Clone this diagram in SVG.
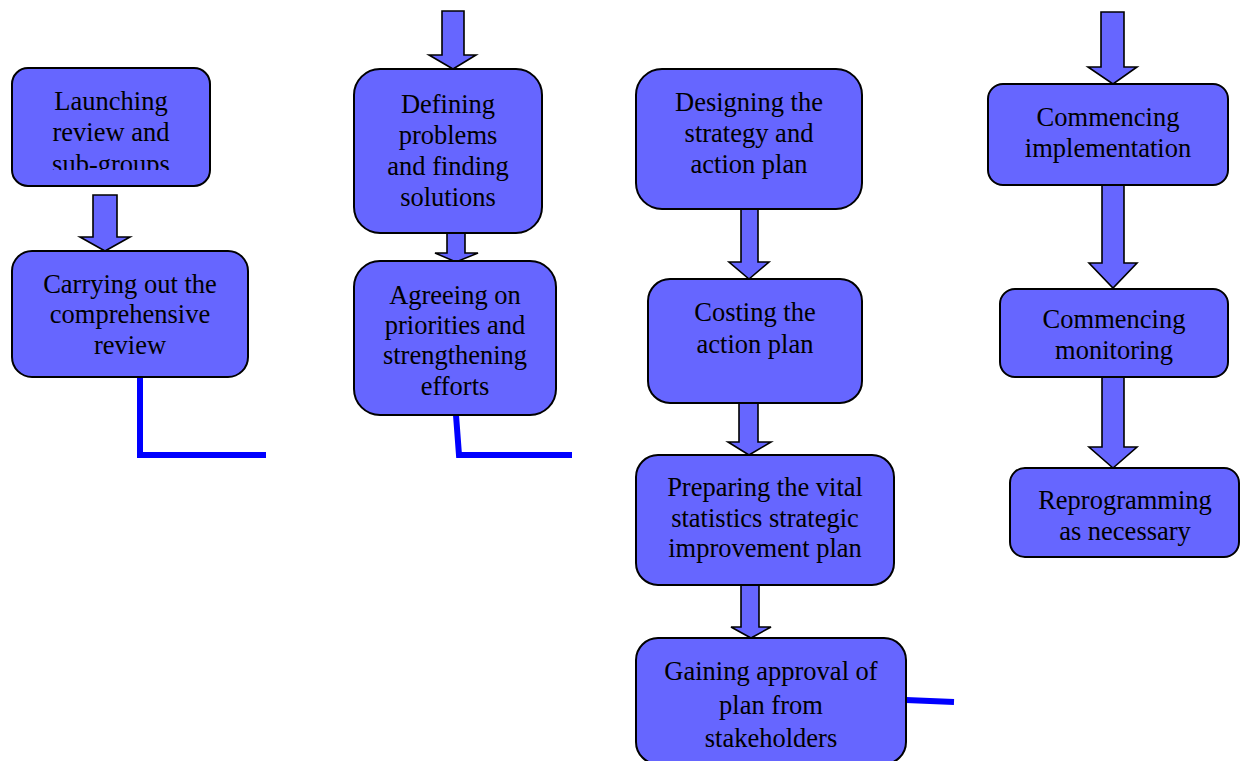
<svg xmlns="http://www.w3.org/2000/svg" width="1240" height="761" viewBox="0 0 1240 761">
<defs>
<style>
.box{fill:#6666FF;stroke:#000;stroke-width:2}
.arr{fill:#6666FF;stroke:#000;stroke-width:1.6;stroke-linejoin:miter}
.ln{fill:none;stroke:#0000FF;stroke-width:6;stroke-linejoin:miter}
.t{font-family:"Liberation Serif","Times New Roman",serif;font-size:26.5px;fill:#000;text-anchor:middle}
</style>
<clipPath id="c1"><rect x="12" y="68" width="198" height="102"/></clipPath>
</defs>
<rect width="1240" height="761" fill="#fff"/>
<g id="connectors">
<polygon class="arr" points="93,195 117,195 117,237 130,237 105,251 80,237 93,237"/>
<polygon class="arr" points="442,11 464,11 464,55 476,55 453,69 429,55 442,55"/>
<polygon class="arr" points="447,233 465,233 465,253 478,253 456,262 435,253 447,253"/>
<polygon class="arr" points="741,209 758,209 758,262 769,262 749,279 729,262 741,262"/>
<polygon class="arr" points="739,403 758,403 758,442 771,442 749,455 728,442 739,442"/>
<polygon class="arr" points="741,585 759,585 759,627 771,627 751,638 731,627 741,627"/>
<polygon class="arr" points="1101,12 1124,12 1124,67 1137,67 1113,84 1088,67 1101,67"/>
<polygon class="arr" points="1102,185 1124,185 1124,263 1137,263 1113,288 1089,263 1102,263"/>
<polygon class="arr" points="1102,377 1124,377 1124,447 1137,447 1113,468 1089,447 1102,447"/>
<polyline class="ln" points="140,377 140,455 266,455"/>
<polyline class="ln" points="456,415 459,455 572,455"/>
<polyline class="ln" points="906,700 954,702"/>
</g>
<g id="n1">
<rect class="box" x="12" y="68" width="198" height="118" rx="16"/>
<g clip-path="url(#c1)"><text class="t"><tspan x="111" y="110">Launching</tspan><tspan x="111" y="141">review and</tspan><tspan x="111" y="173">sub-groups</tspan></text></g>
</g>
<g id="n2">
<rect class="box" x="12" y="251" width="236" height="126" rx="20"/>
<text class="t"><tspan x="130" y="293">Carrying out the</tspan><tspan x="130" y="323">comprehensive</tspan><tspan x="130" y="354">review</tspan></text>
</g>
<g id="n3">
<rect class="box" x="354" y="69" width="188" height="164" rx="26"/>
<text class="t"><tspan x="448" y="113">Defining</tspan><tspan x="448" y="144">problems</tspan><tspan x="448" y="175">and finding</tspan><tspan x="448" y="206">solutions</tspan></text>
</g>
<g id="n4">
<rect class="box" x="354" y="261" width="202" height="154" rx="26"/>
<text class="t"><tspan x="455" y="304">Agreeing on</tspan><tspan x="455" y="334">priorities and</tspan><tspan x="455" y="364">strengthening</tspan><tspan x="455" y="395">efforts</tspan></text>
</g>
<g id="n5">
<rect class="box" x="636" y="69" width="226" height="140" rx="26"/>
<text class="t"><tspan x="749" y="111">Designing the</tspan><tspan x="749" y="142">strategy and</tspan><tspan x="749" y="173">action plan</tspan></text>
</g>
<g id="n6">
<rect class="box" x="648" y="279" width="214" height="124" rx="22"/>
<text class="t"><tspan x="755" y="321">Costing the</tspan><tspan x="755" y="353">action plan</tspan></text>
</g>
<g id="n7">
<rect class="box" x="636" y="455" width="258" height="130" rx="22"/>
<text class="t"><tspan x="765" y="496">Preparing the vital</tspan><tspan x="765" y="527">statistics strategic</tspan><tspan x="765" y="557">improvement plan</tspan></text>
</g>
<g id="n8">
<rect class="box" x="636" y="638" width="270" height="126" rx="22"/>
<text class="t"><tspan x="771" y="680">Gaining approval of</tspan><tspan x="771" y="714">plan from</tspan><tspan x="771" y="747">stakeholders</tspan></text>
</g>
<g id="n9">
<rect class="box" x="988" y="84" width="240" height="101" rx="15"/>
<text class="t"><tspan x="1108" y="126">Commencing</tspan><tspan x="1108" y="157">implementation</tspan></text>
</g>
<g id="n10">
<rect class="box" x="1000" y="289" width="228" height="88" rx="15"/>
<text class="t"><tspan x="1114" y="328">Commencing</tspan><tspan x="1114" y="359">monitoring</tspan></text>
</g>
<g id="n11">
<rect class="box" x="1010" y="468" width="229" height="89" rx="15"/>
<text class="t"><tspan x="1125" y="509">Reprogramming</tspan><tspan x="1125" y="540">as necessary</tspan></text>
</g>
</svg>
